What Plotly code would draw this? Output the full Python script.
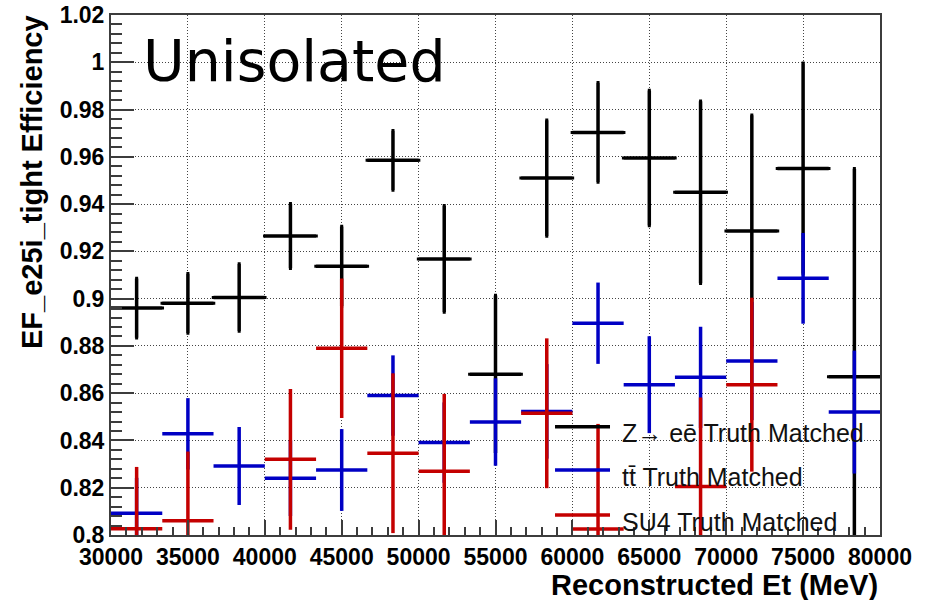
import plotly.graph_objects as go

# Reconstructed Et bins (MeV): centres and half-width
et_center = [31666.7, 35000, 38333.3, 41666.7, 45000, 48333.3, 51666.7, 55000,
             58333.3, 61666.7, 65000, 68333.3, 71666.7, 75000, 78333.3]
et_halfwidth = 1666.7

# EF_e25i_tight efficiency per bin, with symmetric uncertainties
zee_eff = [0.896, 0.898, 0.9005, 0.9265, 0.9137, 0.9585, 0.9168, 0.868,
           0.951, 0.9703, 0.9595, 0.945, 0.9286, 0.9551, 0.867]
zee_err = [0.0125, 0.0125, 0.0142, 0.0136, 0.0168, 0.0125, 0.0225, 0.0333,
           0.0245, 0.021, 0.0286, 0.0385, 0.049, 0.0445, 0.088]

ttbar_eff = [0.8092, 0.8428, 0.8292, 0.824, 0.8275, 0.859, 0.8391, 0.8478,
             0.8523, 0.8896, 0.8636, 0.8667, 0.8736, 0.9086, 0.852]
ttbar_err = [0.015, 0.0151, 0.0165, 0.016, 0.0173, 0.017, 0.017, 0.0185,
             0.02, 0.0172, 0.0205, 0.0214, 0.025, 0.0192, 0.026]

su4_eff = [0.8026, 0.806, None, 0.832, 0.879, 0.8346, 0.827, None,
           0.8515, 0.8025, None, 0.8205, 0.8636, None, None]
su4_err = [0.0262, 0.0293, None, 0.0298, 0.0295, 0.0338, 0.0327, None,
           0.0317, 0.0445, None, 0.0377, 0.0368, None, None]

series_names = ["Z\u2192 ee\u0304 Truth Matched", "tt\u0304 Truth Matched", "SU4 Truth Matched"]
series_colors = ["#000000", "#0000c4", "#c40000"]

y_ticks = [0.8, 0.82, 0.84, 0.86, 0.88, 0.9, 0.92, 0.94, 0.96, 0.98, 1.0, 1.02]
y_ticktext = ["0.8", "0.82", "0.84", "0.86", "0.88", "0.9", "0.92", "0.94",
              "0.96", "0.98", "1", "1.02"]
x_ticks = [30000, 35000, 40000, 45000, 50000, 55000, 60000, 65000, 70000, 75000, 80000]
x_ticktext = [str(v) for v in x_ticks]

FONT = "Liberation Sans, Arial, Helvetica, sans-serif"
AXIS_COL = "#3c3c3c"

fig = go.Figure()

for eff, err, col, cap in [(zee_eff, zee_err, series_colors[0], 1.5),
                           (ttbar_eff, ttbar_err, series_colors[1], 0),
                           (su4_eff, su4_err, series_colors[2], 0)]:
    fig.add_trace(go.Scatter(
        x=et_center, y=eff, mode="markers",
        marker=dict(size=2, color=col, opacity=0),
        error_y=dict(type="data", array=err, color=col, thickness=3.5, width=cap),
        error_x=dict(type="data", array=[et_halfwidth] * len(et_center),
                     color=col, thickness=3.5, width=cap),
        showlegend=False, hoverinfo="skip",
    ))

# Legend: line samples and labels inside the frame
legend_y = [0.2083, 0.125, 0.0385]
for name, col, ly in zip(series_names, series_colors, legend_y):
    fig.add_shape(type="line", xref="paper", yref="paper",
                  x0=0.5774, x1=0.6489, y0=ly, y1=ly,
                  line=dict(color=col, width=3.5))
    fig.add_annotation(xref="paper", yref="paper", x=0.662, y=ly - 0.013,
                       xanchor="left", yanchor="middle", showarrow=False,
                       text=name, font=dict(family=FONT, size=25, color="#111"))

# Big label in the upper-left corner
fig.add_annotation(xref="paper", yref="paper", x=0.039, y=0.912,
                   xanchor="left", yanchor="middle", showarrow=False,
                   text="Unisolated",
                   font=dict(family="DejaVu Sans", size=57, color="#000"))

# Axis titles (right/top aligned)
fig.add_annotation(xref="paper", yref="paper", x=1.0, y=-0.097,
                   xanchor="right", yanchor="middle", showarrow=False,
                   text="Reconstructed Et (MeV)",
                   font=dict(family=FONT, size=29, weight="bold", color="#000"))
fig.add_annotation(xref="paper", yref="paper", x=-0.102, y=0.678,
                   xanchor="center", yanchor="middle", showarrow=False,
                   textangle=-90, text="EF_e25i_tight Efficiency",
                   font=dict(family=FONT, size=29, weight="bold", color="#000"))

fig.update_xaxes(
    range=[30000, 80000], tickmode="array", tickvals=x_ticks, ticktext=x_ticktext,
    ticks="inside", ticklen=15, tickwidth=1.5, tickcolor=AXIS_COL,
    minor=dict(ticks="inside", ticklen=8, dtick=1000, tick0=30000,
               tickwidth=1.5, tickcolor=AXIS_COL, showgrid=False),
    showline=True, linecolor=AXIS_COL, linewidth=2, mirror=True,
    showgrid=True, gridcolor="#444", griddash="1px,2px", gridwidth=1,
    zeroline=False, automargin=False,
    tickfont=dict(family=FONT, size=23, weight="bold", color="#000"),
)
fig.update_yaxes(
    range=[0.8, 1.02], tickmode="array", tickvals=y_ticks, ticktext=y_ticktext,
    ticks="inside", ticklen=23, tickwidth=1.5, tickcolor=AXIS_COL,
    minor=dict(ticks="inside", ticklen=11, dtick=0.004, tick0=0.8,
               tickwidth=1.5, tickcolor=AXIS_COL, showgrid=False),
    showline=True, linecolor=AXIS_COL, linewidth=2, mirror=True,
    showgrid=True, gridcolor="#444", griddash="1px,2px", gridwidth=1,
    zeroline=False, automargin=False,
    tickfont=dict(family=FONT, size=23, weight="bold", color="#000"),
)

fig.update_layout(
    width=929, height=600,
    margin=dict(l=111, r=49, t=15, b=65),
    paper_bgcolor="white", plot_bgcolor="white",
)

fig.write_html("out.html")
